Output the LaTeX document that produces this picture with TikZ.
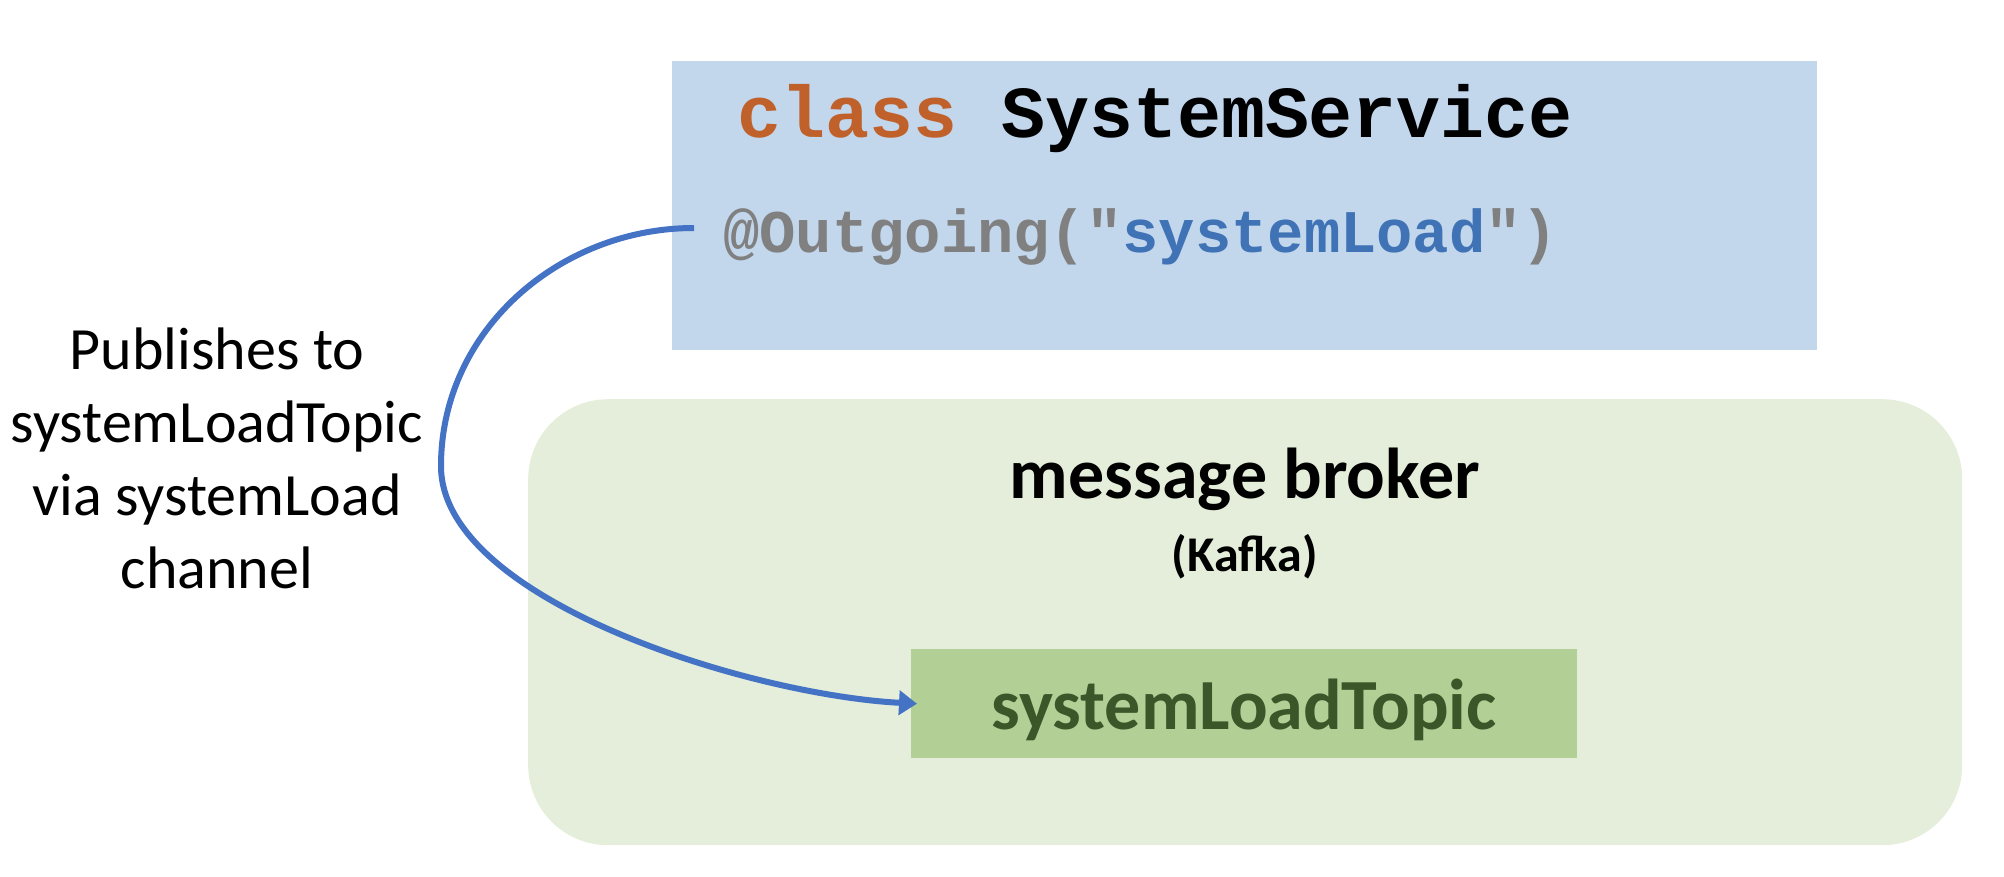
\documentclass[tikz,border=0pt]{standalone}
\usepackage{fontspec}
\setmainfont{Carlito}
\newfontfamily\codefont{Liberation Mono}
\usetikzlibrary{arrows.meta}
\definecolor{boxblue}{HTML}{C2D6EC}
\definecolor{brokergreen}{HTML}{E4EEDA}
\definecolor{topicgreen}{HTML}{B2CF95}
\definecolor{topictext}{HTML}{3B5628}
\definecolor{kwcolor}{HTML}{C0612B}
\definecolor{anncolor}{HTML}{808080}
\definecolor{strcolor}{HTML}{3F73B5}
\definecolor{flowblue}{HTML}{4472C4}
\begin{document}
\begin{tikzpicture}[x=1pt,y=-1pt,
  panel/.style={rectangle, inner sep=0pt, anchor=north west, draw=none},
  txt/.style={inner sep=0pt, anchor=base},
  flow/.style={draw=flowblue, line width=6pt, -{Triangle[length=18pt,width=24pt]}}
]
\useasboundingbox (0,0) rectangle (2004,876);
% boxes
\node[panel, fill=boxblue, minimum width=1145pt, minimum height=289pt] (service) at (672,61) {};
\node[panel, fill=brokergreen, rounded corners=80pt, minimum width=1434pt, minimum height=446pt] (broker) at (528,399) {};
\node[panel, fill=topicgreen, minimum width=666pt, minimum height=109pt] (topic) at (911,649) {};
% code text
\node[txt, anchor=base west, font=\codefont\bfseries\fontsize{73.3}{80}\selectfont] (classline) at (737,137) {\textcolor{kwcolor}{class} SystemService};
\node[txt, anchor=base west, font=\codefont\bfseries\fontsize{60.5}{66}\selectfont, text=anncolor] (outgoing) at (723,252) {@Outgoing("\textcolor{strcolor}{systemLoad}")};
% broker text
\node[txt, font=\bfseries\fontsize{72}{80}\selectfont] (brokertitle) at (1245,498) {message broker};
\node[txt, font=\bfseries\fontsize{50}{56}\selectfont] (kafka) at (1245,571) {(Kafka)};
\node[txt, font=\bfseries\fontsize{72}{80}\selectfont, text=topictext] (topiclabel) at (1244,729) {systemLoadTopic};
% description (base anchor = baseline of last line)
\node[txt, align=center, font=\fontsize{60}{73}\selectfont] (desc) at (217,588) {Publishes to\\systemLoadTopic\\via systemLoad\\channel};
% connector
\coordinate (src) at (694,228);
\coordinate (bend) at (441,466);
\draw[flow] (src) .. controls (560,228) and (441,330) .. (bend) .. controls (441,600) and (750,695) .. ([xshift=6pt]topic.west);
\end{tikzpicture}
\end{document}
